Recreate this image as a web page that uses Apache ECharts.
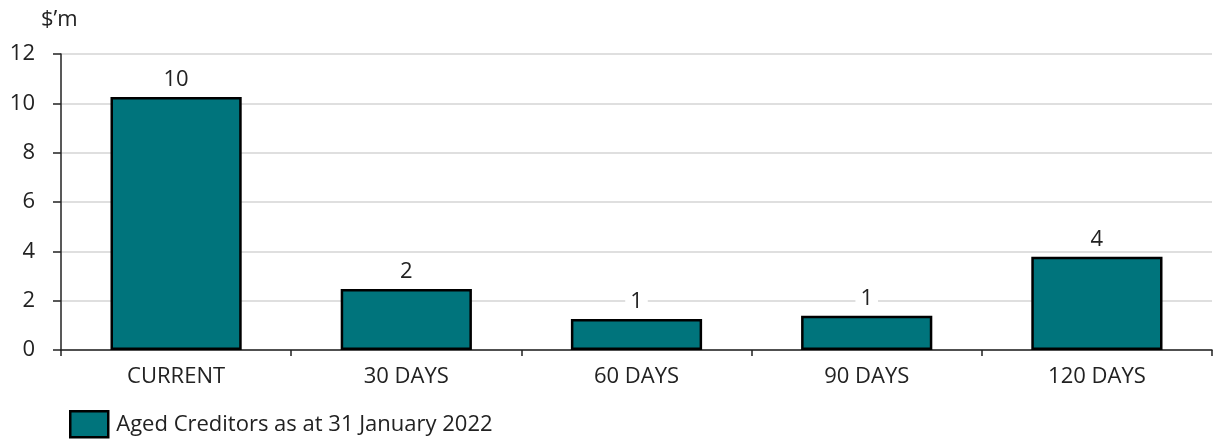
<!DOCTYPE html>
<html><head><meta charset="utf-8">
<script src="https://cdn.jsdelivr.net/npm/echarts@6/dist/echarts.min.js"></script>
<style>html,body{margin:0;padding:0;background:#fff}#c{width:1214px;height:441px}</style>
</head><body><div id="c"></div>
<script>
const categories = ['CURRENT', '30 DAYS', '60 DAYS', '90 DAYS', '120 DAYS'];
const values = [10.26, 2.47, 1.26, 1.39, 3.78];
const yTicks = [0, 2, 4, 6, 8, 10, 12];
const seriesName = 'Aged Creditors as at 31 January 2022';
const unitLabel = '$\u2019m';

const FONT = '"Open Sans", "Noto Sans", sans-serif';
const FS = 22;
const chart = echarts.init(document.getElementById('c'), null, {renderer: 'canvas'});
chart.setOption({
  animation: false,
  textStyle: {fontFamily: FONT},
  grid: {left: 61, right: 2, top: 54, bottom: 91, containLabel: false},
  legend: {
    data: [{name: seriesName, icon: 'rect'}], left: 69, top: 410, itemWidth: 38, itemHeight: 26, padding: 0,
    textStyle: {fontFamily: FONT, fontSize: FS, color: '#222', padding: [0, 0, 0, 3]},
    itemStyle: {borderColor: '#000', borderWidth: 2.5}
  },
  graphic: [{type: 'text', left: 41, top: 9, style: {text: unitLabel, font: FS + 'px ' + FONT, fill: '#222'}}],
  xAxis: {
    type: 'category', data: categories,
    axisLine: {lineStyle: {color: '#222', width: 1.5}},
    axisTick: {show: true, alignWithLabel: false, length: 6, lineStyle: {color: '#222', width: 1.5}},
    axisLabel: {margin: 16, fontSize: FS, color: '#222', fontFamily: FONT}
  },
  yAxis: {
    type: 'value', min: yTicks[0], max: yTicks[yTicks.length - 1], interval: 2,
    axisLine: {show: true, lineStyle: {color: '#222', width: 1.5}},
    axisTick: {show: true, length: 8, lineStyle: {color: '#222', width: 1.5}},
    axisLabel: {margin: 26, fontSize: FS, color: '#222', fontFamily: FONT},
    splitLine: {lineStyle: {color: '#d4d4d4', width: 1.5}}
  },
  series: [{
    name: seriesName, type: 'bar', data: values, barWidth: '57%',
    itemStyle: {color: '#00747c', borderColor: '#000', borderWidth: 2.5},
    label: {
      show: true, position: 'top', distance: 6, fontSize: FS, color: '#222', fontFamily: FONT,
      backgroundColor: '#fff', padding: [0, 5],
      formatter: p => String(Math.round(p.value))
    }
  }]
});
</script></body></html>
